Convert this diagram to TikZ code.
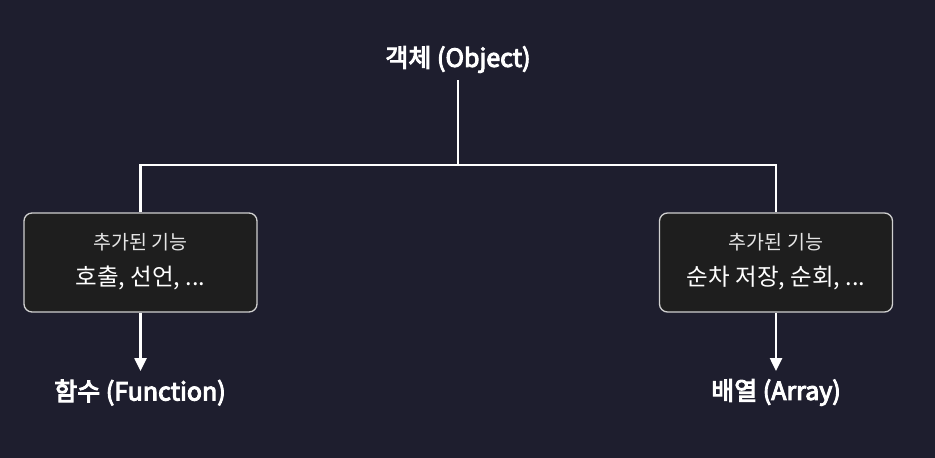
\documentclass[tikz,border=0pt]{standalone}
\usepackage{fontspec}
\setmainfont{Noto Sans CJK KR}
\newfontfamily\medfont[FakeBold=4]{Noto Sans CJK KR}
\usetikzlibrary{arrows.meta}
\definecolor{bg}{HTML}{1E1E2E}
\definecolor{boxfill}{HTML}{1E1E1E}
\definecolor{boxline}{HTML}{D0D0D0}
\tikzset{
  x=1pt, y=-1pt,
  title/.style={text=white, font=\fontsize{25}{30}\selectfont\medfont, inner sep=0pt, anchor=center},
  featbox/.style={draw=boxline, fill=boxfill, line width=1.3pt, rounded corners=8pt, minimum width=233pt, minimum height=99pt, inner sep=0pt},
  small/.style={text=white!90!black, font=\fontsize{19.5}{23}\selectfont, inner sep=0pt},
  big/.style={text=white, font=\fontsize{23.5}{28}\selectfont, inner sep=0pt},
  conn/.style={draw=white, line width=2.5pt},
  arr/.style={conn, -{Triangle[width=12pt,length=13pt]}}
}
\begin{document}
\begin{tikzpicture}
\fill[bg] (0,0) rectangle (935,458);
\useasboundingbox (0,0) rectangle (935,458);
\node[title] (obj) at (458,59.5) {객체 (Object)};
\node[featbox] (lbox) at (140.5,262.5) {};
\node[featbox] (rbox) at (776,262.5) {};
\node[small] (lt1) at (140.5,242) {추가된 기능};
\node[big] (lt2) at (140.5,278) {호출, 선언, ...};
\node[small] (rt1) at (776,242) {추가된 기능};
\node[big] (rt2) at (776,278) {순차 저장, 순회, ...};
\node[title] (fn) at (140,392.5) {함수 (Function)};
\node[title] (ar) at (776,392.5) {배열 (Array)};
\coordinate (top) at (458,80);
\coordinate (mid) at (458,165);
\coordinate (lj) at (140.5,165);
\coordinate (rj) at (776,165);
\coordinate (fnend) at (140.5,371);
\coordinate (arend) at (776,371);
\draw[conn] (top) -- (mid);
\draw[conn, line cap=rect] (lj) -- (rj);
\draw[conn] (lj) -- (lbox.north);
\draw[conn] (rj) -- (rbox.north);
\draw[arr] (lbox.south) -- (fnend);
\draw[arr] (rbox.south) -- (arend);
\end{tikzpicture}
\end{document}
